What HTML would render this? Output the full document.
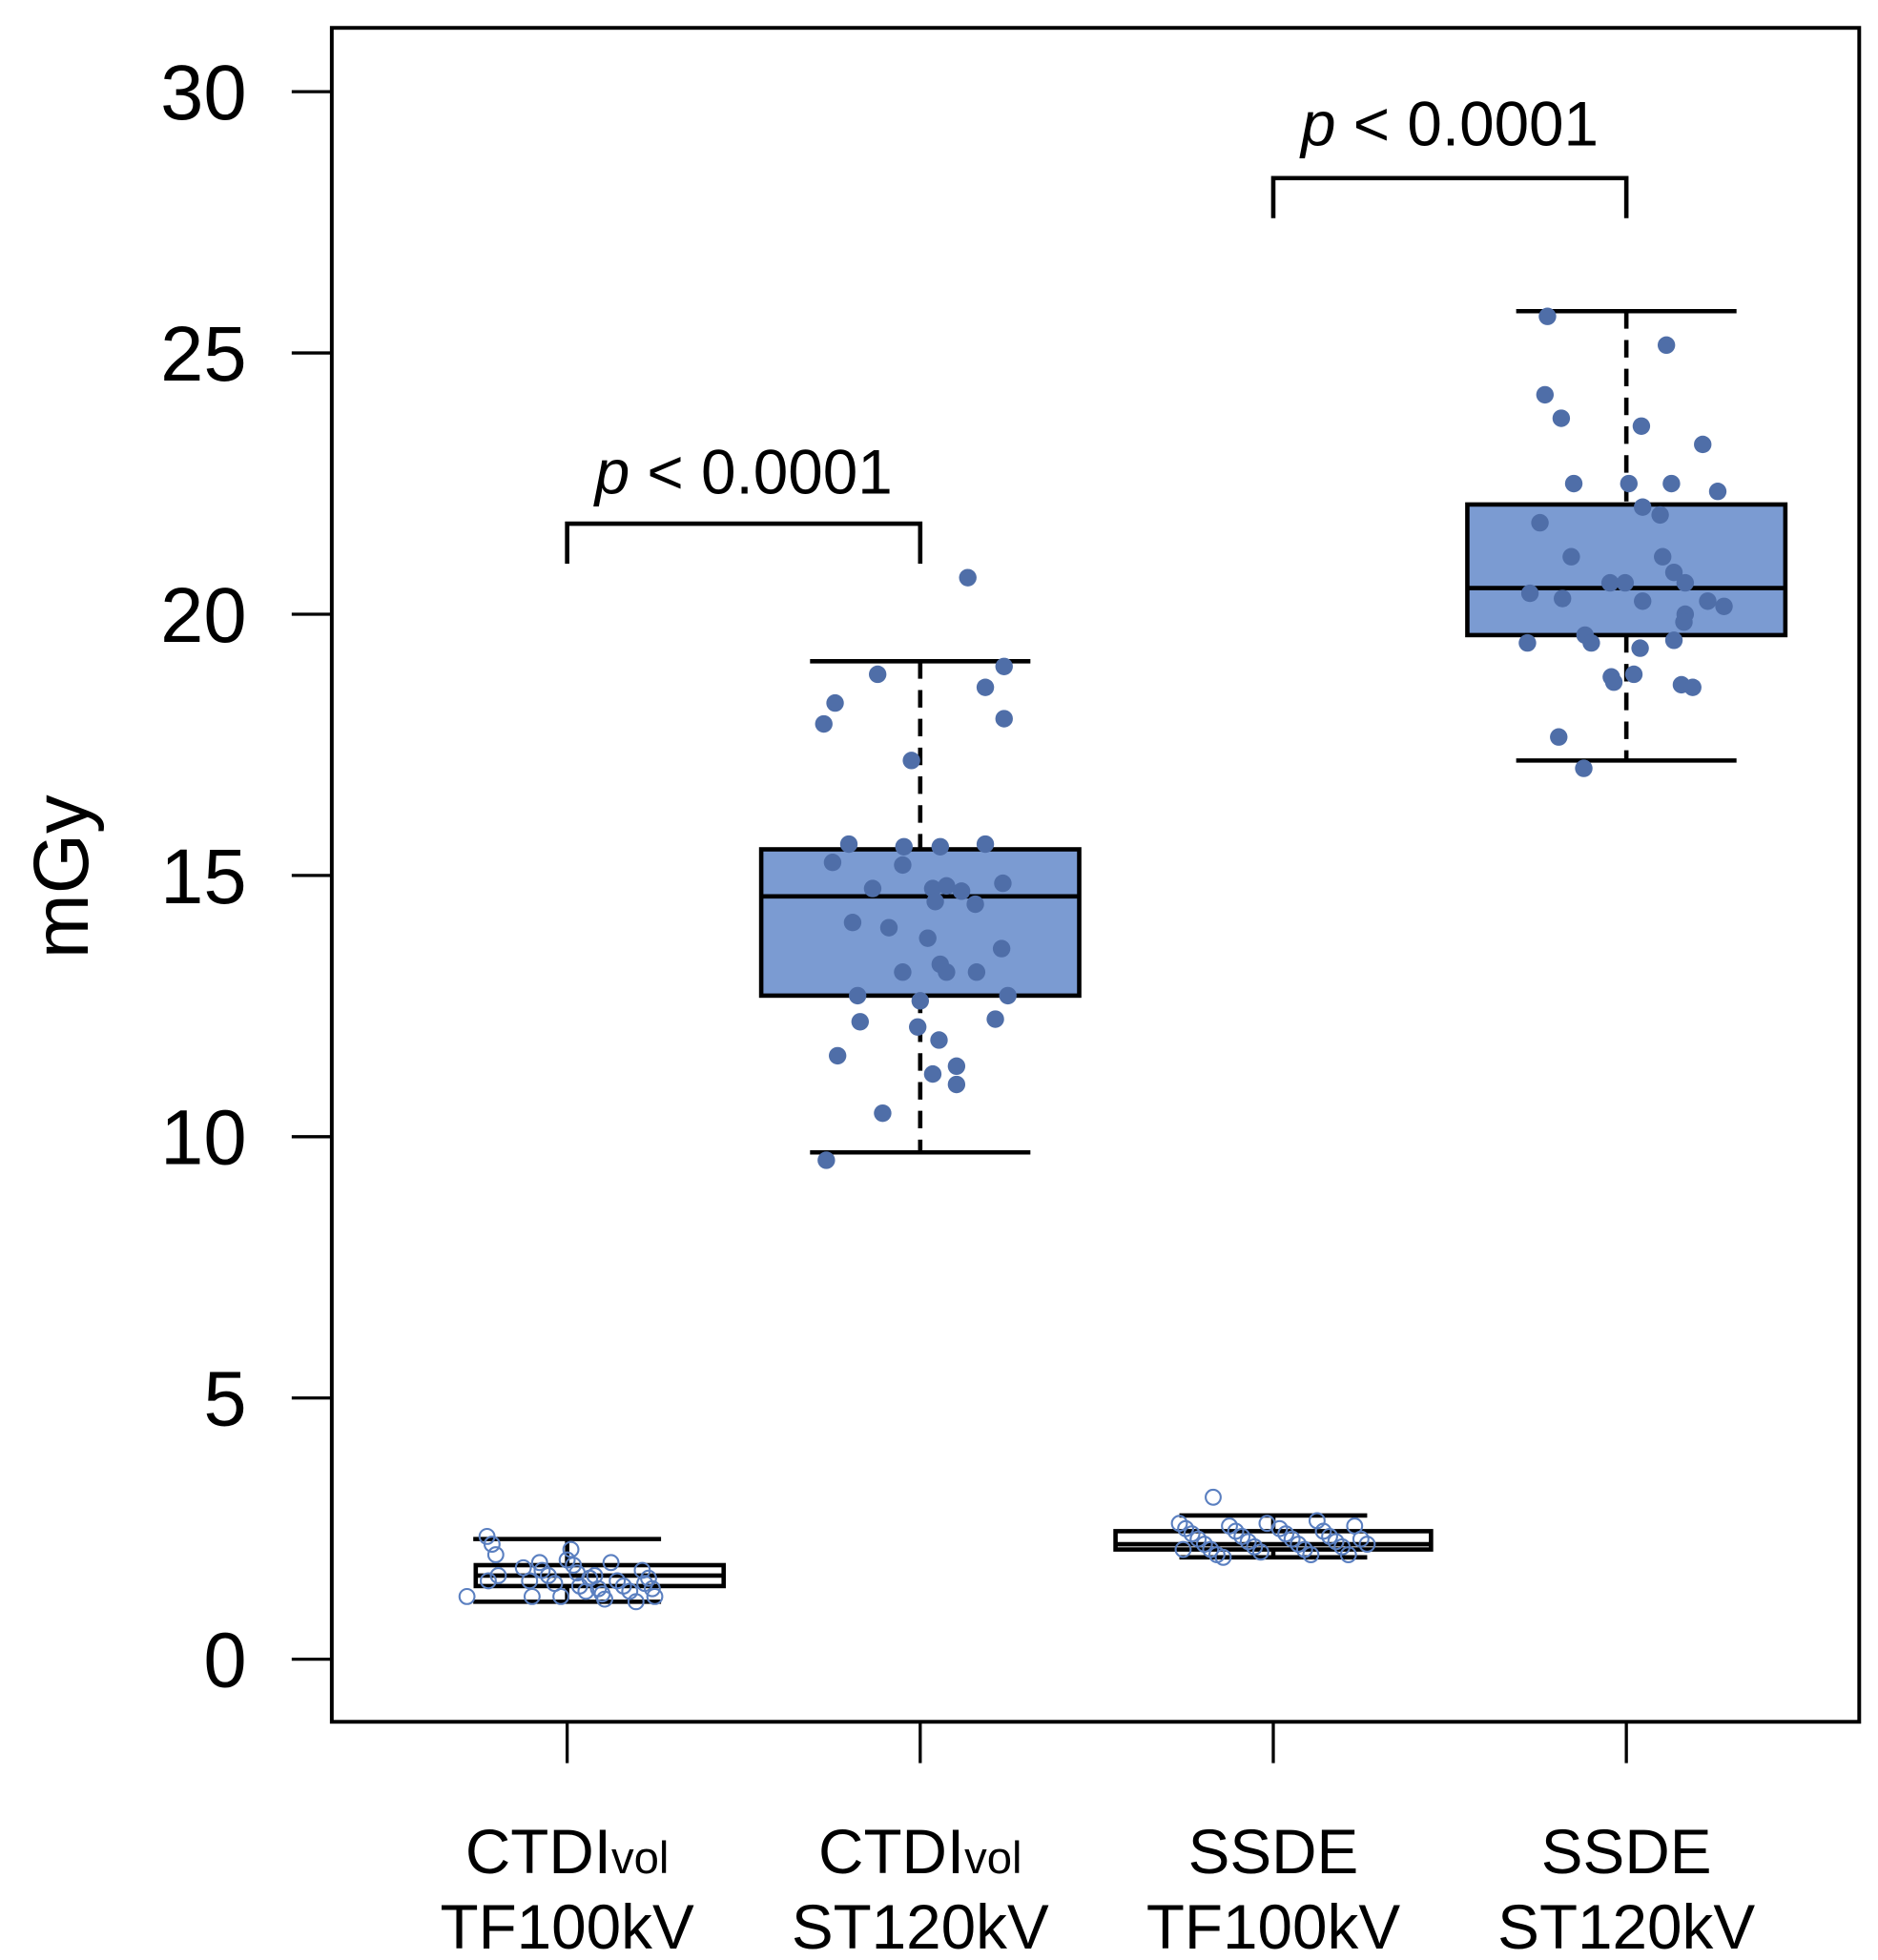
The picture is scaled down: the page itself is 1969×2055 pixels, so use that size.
<!DOCTYPE html>
<html><head><meta charset="utf-8"><style>
html,body{margin:0;padding:0;background:#fff;}
svg{display:block;}
text{font-family:"Liberation Sans",sans-serif;fill:#000;}
</style></head><body>
<svg id="chart" width="1969" height="2055" viewBox="0 0 1500 1565" xmlns="http://www.w3.org/2000/svg">
<g id="g"></g>
</svg>
<script>
const categories = ["CTDIvol TF100kV","CTDIvol ST120kV","SSDE TF100kV","SSDE ST120kV"];
const yTicks = [0,5,10,15,20,25,30];
const q1 = [1.4, 12.7, 2.1, 19.6];
const medians = [1.6, 14.6, 2.2, 20.5];
const q3 = [1.8, 15.5, 2.45, 22.1];
const whiskLo = [1.1, 9.7, 1.95, 17.2];
const whiskHi = [2.3, 19.1, 2.75, 25.8];
const pts0 = [2.35,2.2,2.0,1.6,1.5,1.2,1.75,1.5,1.2,1.85,1.7,1.6,1.45,1.2,1.9,2.1,1.8,1.65,1.4,1.3,1.55,1.6,1.35,1.25,1.15,1.85,1.5,1.4,1.3,1.1,1.7,1.45,1.55,1.35,1.2];
const jit0 = [-64,-60,-57,-55,-63,-80,-35,-30,-28,-22,-20,-15,-10,-5,0,3,5,8,10,15,18,22,25,28,30,35,40,45,50,55,60,62,65,68,70];
const pts1 = [20.7,18.3,17.9,18.85,18.6,19.0,18.0,17.2,15.6,15.55,15.55,15.6,15.25,15.2,14.75,14.75,14.8,14.7,14.85,14.5,14.45,14.1,14.0,13.8,13.6,13.3,13.15,13.15,13.15,12.7,12.6,12.7,12.2,12.1,12.25,11.85,11.55,11.35,11.2,11.0,10.45,9.55];
const jit1 = [38,-68,-77,-34,52,67,67,-7,-57,-13,16,52,-70,-14,-38,10,21,33,66,12,44,-54,-25,6,65,16,21,-14,45,-50,0,70,-48,-2,60,15,-66,29,10,29,-30,-75];
const pts2 = [3.1,2.6,2.5,2.4,2.3,2.2,2.1,2.0,1.95,2.55,2.45,2.35,2.25,2.15,2.05,2.6,2.5,2.4,2.3,2.2,2.1,2.0,2.65,2.45,2.35,2.25,2.15,2.0,2.55,2.3,2.2,2.1];
const jit2 = [-48,-75,-70,-65,-60,-55,-50,-45,-40,-35,-30,-25,-20,-15,-10,-5,5,10,15,20,25,30,35,40,45,50,55,60,65,70,75,-72];
const pts3 = [25.7,25.15,24.2,23.75,23.6,23.25,22.5,22.5,22.5,22.35,22.05,21.9,21.75,21.1,21.1,20.8,20.6,20.6,20.6,20.4,20.3,20.25,20.25,20.15,20.0,19.85,19.6,19.45,19.45,19.5,19.35,18.85,18.8,18.7,18.65,18.6,17.65,17.05];
const jit3 = [-63,32,-65,-52,12,61,-42,2,36,73,13,27,-69,-44,29,38,-13,-1,47,-77,-51,13,65,78,47,46,-33,-28,-79,38,11,6,-12,-10,44,53,-54,-34];
const allPts = [pts0,pts1,pts2,pts3];
const allJit = [jit0,jit1,jit2,jit3];
const boxHalf = [99,127,126,127];
const boxShift = [26,0,0,0];
const filled = [false,true,false,true];

const NS="http://www.w3.org/2000/svg";
const g=document.getElementById('g');
const L=265,R=1485,T=22,B=1375;
const y=v=>1325-(1325-73)*v/30;
const xc=i=>453+i*282;
function mk(tag,attrs,parent){const e=document.createElementNS(NS,tag);for(const k in attrs)e.setAttribute(k,attrs[k]);(parent||g).appendChild(e);return e;}

let f=mk('rect',{x:L,y:T,width:R-L,height:B-T,fill:'none',stroke:'#000','stroke-width':3});



yTicks.forEach(t=>{
  let l=mk('line',{x1:233,x2:L,y1:y(t),y2:y(t),stroke:'#000','stroke-width':2.5});
  
  
  let tx=mk('text',{x:197,y:y(t)+22,'text-anchor':'end','font-size':62});
  tx.textContent=t;
  
  
});
let yt=mk('text',{x:0,y:0,'font-size':62,'text-anchor':'middle',transform:'translate(70,700) rotate(-90)'});
yt.textContent='mGy';



categories.forEach((c,i)=>{
  let l=mk('line',{x1:xc(i),x2:xc(i),y1:B,y2:1408,stroke:'#000','stroke-width':2.5});
  
  
  const parts=c.split(' ');
  let t1=mk('text',{x:xc(i),y:1496,'text-anchor':'middle','font-size':50});
  if(parts[0]==='CTDIvol'){t1.innerHTML='CTDI<tspan font-size="36">vol</tspan>';}else t1.textContent=parts[0];
  
  
  let t2=mk('text',{x:xc(i),y:1556,'text-anchor':'middle','font-size':50});
  t2.textContent=parts[1];
  
  
});

categories.forEach((c,i)=>{
  const cx=xc(i),hw=boxHalf[i],cap=filled[i]?88:75,bx=cx+boxShift[i];
  const grp=mk('g',{});
  
  
  mk('line',{x1:cx,x2:cx,y1:y(whiskHi[i]),y2:y(q3[i]),stroke:'#000','stroke-width':3.5,'stroke-dasharray':filled[i]?'14,9':''},grp);
  mk('line',{x1:cx,x2:cx,y1:y(q1[i]),y2:y(whiskLo[i]),stroke:'#000','stroke-width':3.5,'stroke-dasharray':filled[i]?'14,9':''},grp);
  mk('line',{x1:cx-cap,x2:cx+cap,y1:y(whiskHi[i]),y2:y(whiskHi[i]),stroke:'#000','stroke-width':3.5},grp);
  mk('line',{x1:cx-cap,x2:cx+cap,y1:y(whiskLo[i]),y2:y(whiskLo[i]),stroke:'#000','stroke-width':3.5},grp);
  mk('rect',{x:bx-hw,y:y(q3[i]),width:2*hw,height:y(q1[i])-y(q3[i]),fill:filled[i]?'#7b9bd2':'#fff',stroke:'#000','stroke-width':3.5},grp);
  mk('line',{x1:bx-hw,x2:bx+hw,y1:y(medians[i]),y2:y(medians[i]),stroke:'#000','stroke-width':3.5},grp);
});

allPts.forEach((arr,i)=>{
  arr.forEach((v,k)=>{
    const c=mk('circle',{cx:xc(i)+allJit[i][k],cy:y(v),r:filled[i]?7:6,fill:filled[i]?'#4f6ea8':'none',stroke:filled[i]?'none':'#5a7fc0','stroke-width':1.6});
    
    
  });
});

function bracket(i1,i2,yy,ty,name){
  const grp=mk('g',{});
  
  
  mk('path',{d:`M${xc(i1)},${yy+32} V${yy} H${xc(i2)} V${yy+32}`,fill:'none',stroke:'#000','stroke-width':3.5},grp);
  const t=mk('text',{x:(xc(i1)+xc(i2))/2,y:ty,'text-anchor':'middle','font-size':50},grp);
  t.innerHTML='<tspan font-style="italic">p</tspan> &lt; 0.0001';
}
bracket(0,1,418,394,'significance-bracket-ctdi');
bracket(2,3,142,116,'significance-bracket-ssde');
</script>
</body></html>
